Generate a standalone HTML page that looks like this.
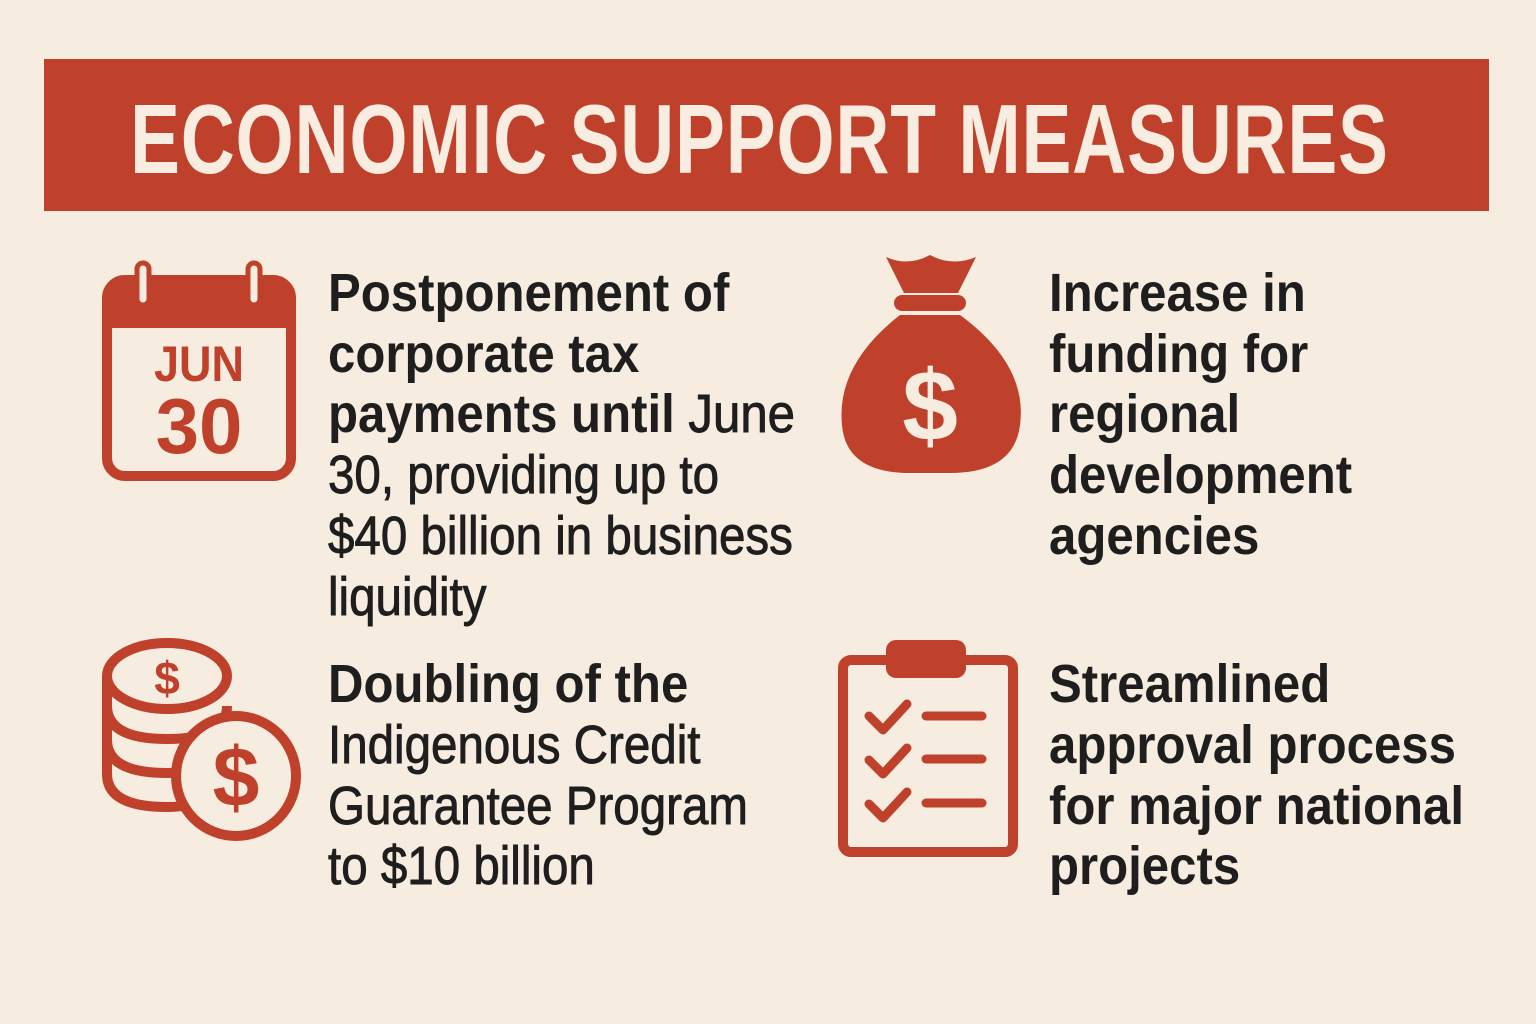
<!DOCTYPE html>
<html><head><meta charset="utf-8"><style>
html,body{margin:0;padding:0}
body{width:1536px;height:1024px;background:#f6ece0;position:relative;overflow:hidden;font-family:"Liberation Sans",sans-serif}
#banner{position:absolute;left:44px;top:59px;width:1445px;height:152px;background:#c0412b}
#title{position:absolute;left:130px;top:84px;font-size:98px;font-weight:bold;color:#f8ede0;white-space:nowrap;transform-origin:0 0;transform:scaleX(0.764);line-height:110px;letter-spacing:1px}
.l{position:absolute;font-size:54px;line-height:60px;color:#1e1e1e;white-space:nowrap;transform-origin:0 0;transform:scaleX(0.91);font-weight:bold}
.n{font-weight:normal;-webkit-text-stroke:0.9px #1e1e1e}
.l.n{transform:scaleX(0.88)}
svg{position:absolute}
</style></head><body>
<div id="banner"></div>
<div id="title">ECONOMIC SUPPORT MEASURES</div>

<svg style="left:100px;top:258px" width="200" height="225" viewBox="0 0 200 225">
<rect x="7" y="22" width="184" height="196" rx="18" fill="none" stroke="#c0412b" stroke-width="10"/>
<path d="M7 40 a18 18 0 0 1 18 -18 h148 a18 18 0 0 1 18 18 v30 h-184z" fill="#c0412b"/>
<rect x="37" y="5" width="12" height="42" rx="6" fill="#f6ece0" stroke="#c0412b" stroke-width="5"/>
<rect x="148" y="5" width="12" height="42" rx="6" fill="#f6ece0" stroke="#c0412b" stroke-width="5"/>
<text x="99" y="123" text-anchor="middle" font-size="50" font-weight="bold" fill="#c0412b" font-family="Liberation Sans" transform="translate(99 0) scale(0.9 1) translate(-99 0)">JUN</text>
<text x="99" y="195" text-anchor="middle" font-size="78" font-weight="bold" fill="#c0412b" font-family="Liberation Sans">30</text>
</svg>

<svg style="left:838px;top:245px" width="185" height="232" viewBox="0 0 185 232">
<path d="M48 12 q22 10 44 -2 q22 12 46 2 l-18 36 h-54z" fill="#c0412b"/>
<rect x="56" y="50" width="72" height="16" rx="8" fill="#c0412b"/>
<path d="M62 70 h60 q68 50 60 110 q-6 48 -70 48 h-40 q-64 0 -68 -48 q-6 -60 58 -110z" fill="#c0412b"/>
<text x="92" y="195" text-anchor="middle" font-size="100" font-weight="bold" fill="#f6ece0" font-family="Liberation Sans">$</text>
</svg>

<svg style="left:100px;top:636px" width="205" height="210" viewBox="0 0 205 210">
<g fill="none" stroke="#c0412b" stroke-width="10">
<ellipse cx="67" cy="40" rx="60" ry="33"/>
<path d="M7 40 v30 q0 33 60 33 q60 0 60 -33"/>
<path d="M7 70 v34 q0 33 60 33 q30 0 45 -10"/>
<path d="M7 104 v34 q0 33 60 33 q15 0 25 -3"/>
</g>
<circle cx="136" cy="140" r="55" fill="#f6ece0"/>
<circle cx="136" cy="140" r="60" fill="none" stroke="#c0412b" stroke-width="10"/>
<text x="67" y="58" text-anchor="middle" font-size="46" font-weight="bold" fill="#c0412b" font-family="Liberation Sans">$</text>
<text x="136" y="170" text-anchor="middle" font-size="84" font-weight="bold" fill="#c0412b" font-family="Liberation Sans">$</text>
</svg>

<svg style="left:836px;top:638px" width="185" height="222" viewBox="0 0 185 222">
<rect x="7" y="22" width="170" height="192" rx="8" fill="none" stroke="#c0412b" stroke-width="10"/>
<rect x="50" y="2" width="80" height="38" rx="10" fill="#c0412b"/>
<g stroke="#c0412b" stroke-width="9" fill="none" stroke-linecap="round" stroke-linejoin="round">
<path d="M33 78 l14 14 l24 -26"/><path d="M33 122 l14 14 l24 -26"/><path d="M33 166 l14 14 l24 -26"/>
<path d="M90 78 h56"/><path d="M90 121 h56"/><path d="M90 165 h56"/>
</g>
</svg>

<div>
<div class="l" style="left:328px;top:263px">Postponement of</div>
<div class="l" style="left:328px;top:324px">corporate tax</div>
<div class="l" style="left:328px;top:384px">payments until <span class="n">June</span></div>
<div class="l n" style="left:328px;top:445px">30, providing up to</div>
<div class="l n" style="left:328px;top:506px">$40 billion in business</div>
<div class="l n" style="left:328px;top:567px">liquidity</div>
</div>
<div>
<div class="l" style="left:1049px;top:263px">Increase in</div>
<div class="l" style="left:1049px;top:324px">funding for</div>
<div class="l" style="left:1049px;top:384px">regional</div>
<div class="l" style="left:1049px;top:445px">development</div>
<div class="l" style="left:1049px;top:506px">agencies</div>
</div>
<div>
<div class="l" style="left:328px;top:654px">Doubling of the</div>
<div class="l n" style="left:328px;top:715px">Indigenous Credit</div>
<div class="l n" style="left:328px;top:776px">Guarantee Program</div>
<div class="l n" style="left:328px;top:836px">to $10 billion</div>
</div>
<div>
<div class="l" style="left:1049px;top:654px">Streamlined</div>
<div class="l" style="left:1049px;top:715px">approval process</div>
<div class="l" style="left:1049px;top:776px">for major national</div>
<div class="l" style="left:1049px;top:836px">projects</div>
</div>
</body></html>
